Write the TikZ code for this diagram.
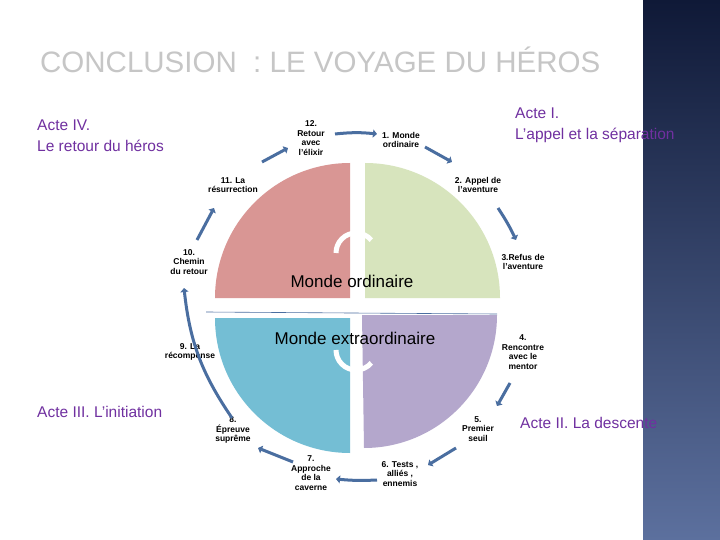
\documentclass[tikz,border=0pt]{standalone}
\usepackage{fontspec}
\setmainfont{Liberation Sans}
\usetikzlibrary{arrows.meta}
\definecolor{actc}{RGB}{112,48,160}
\definecolor{ringc}{RGB}{74,110,160}
\definecolor{pinkq}{RGB}{217,150,148}
\definecolor{greenq}{RGB}{215,228,189}
\definecolor{blueq}{RGB}{116,190,212}
\definecolor{purpq}{RGB}{180,167,204}
\tikzset{
 act/.style={text=actc,font=\fontsize{15.5}{21}\selectfont,align=left,anchor=north west,inner sep=0},
 lab/.style={font=\bfseries\fontsize{8.5}{9.5}\selectfont,align=center,inner sep=0},
 ring/.style={draw=ringc,line width=3pt,-{Triangle[length=4pt,width=8pt]}},
 mid/.style={font=\fontsize{17}{20}\selectfont,inner sep=0}
}
\begin{document}
\begin{tikzpicture}[x=1pt,y=-1pt]
\useasboundingbox (0,0) rectangle (720,540);
\fill[white] (0,0) rectangle (720,540);
\shade[top color={rgb,255:red,15;green,25;blue,55},bottom color={rgb,255:red,92;green,112;blue,158}] (643,0) rectangle (720,540);
\node[font=\fontsize{29.5}{32}\selectfont,text=gray!45,anchor=west,inner sep=0] (title) at (40,60) {CONCLUSION\ \ : LE VOYAGE DU HÉROS};
% quadrants
\fill[pinkq] (350,298) -- (215,298) arc[start angle=180,end angle=270,radius=135] -- cycle;
\fill[greenq] (365,298) -- (365,163) arc[start angle=270,end angle=360,radius=135] -- cycle;
\fill[blueq] (350,318) -- (350,453) arc[start angle=90,end angle=180,radius=135] -- cycle;
\fill[purpq] (362,315) -- (497,315) arc[start angle=0,end angle=90,radius=133] -- cycle;
\draw[ringc,line width=0.6pt] (206,312) -- (497,314);
% white curved arrows
\draw[white,line width=5pt] (336,253) arc[start angle=180,end angle=320,radius=20];
\draw[white,line width=5pt] (336,350) arc[start angle=180,end angle=40,radius=20];
\node[mid] (mo) at (352,281) {Monde ordinaire};
\node[mid] (me) at (355,338) {Monde extraordinaire};
% labels
\node[lab] (l12) at (311,138) {12.\\Retour\\avec\\l’élixir};
\node[lab] (l1) at (401,140) {1. Monde\\ordinaire};
\node[lab] (l2) at (478,185) {2. Appel de\\l’aventure};
\node[lab] (l3) at (523,262) {3.Refus de\\l’aventure};
\node[lab] (l4) at (523,352) {4.\\Rencontre\\avec le\\mentor};
\node[lab] (l5) at (478,429) {5.\\Premier\\seuil};
\node[lab] (l6) at (400,474) {6. Tests ,\\alliés ,\\ennemis};
\node[lab] (l7) at (311,473) {7.\\Approche\\de la\\caverne};
\node[lab] (l8) at (233,430) {8.\\Épreuve\\suprême};
\node[lab] (l9) at (190,352) {9. La\\récompense};
\node[lab] (l10) at (189,262) {10.\\Chemin\\du retour};
\node[lab] (l11) at (233,185) {11. La\\résurrection};
% ring arrows
\coordinate (r1s) at (335,134); \coordinate (r1e) at (377,134);
\coordinate (r2s) at (425,147); \coordinate (r2e) at (452,162);
\coordinate (r3s) at (498,208); \coordinate (r3e) at (516,240);
\coordinate (r4s) at (510,383); \coordinate (r4e) at (497,406);
\coordinate (r5s) at (456,448); \coordinate (r5e) at (428,465);
\coordinate (r6s) at (377,480); \coordinate (r6e) at (336,479);
\coordinate (r7s) at (293,462); \coordinate (r7e) at (258,448);
\coordinate (r8s) at (232,418); \coordinate (r8e) at (184,288);
\coordinate (r10s) at (197,240); \coordinate (r10e) at (214,208);
\coordinate (r11s) at (262,162); \coordinate (r11e) at (288,148);
\draw[ring] (r1s) to[bend left=6] (r1e);
\draw[ring] (r2s) to (r2e);
\draw[ring] (r3s) to[bend left=4] (r3e);
\draw[ring] (r4s) to (r4e);
\draw[ring] (r5s) to (r5e);
\draw[ring] (r6s) to[bend left=4] (r6e);
\draw[ring] (r7s) to (r7e);
\draw[ring] (r8s) to[bend left=14] (r8e);
\draw[ring] (r10s) to (r10e);
\draw[ring] (r11s) to (r11e);
% acts
\node[act] (a4) at (37,120) {Acte IV.\\Le retour du héros};
\node[act] (a1t) at (515,108) {Acte I.\\L’appel et la séparation};
\node[act] (a3) at (37,406) {Acte III. L’initiation};
\node[act] (a2) at (520,417) {Acte II. La descente};
\end{tikzpicture}
\end{document}
